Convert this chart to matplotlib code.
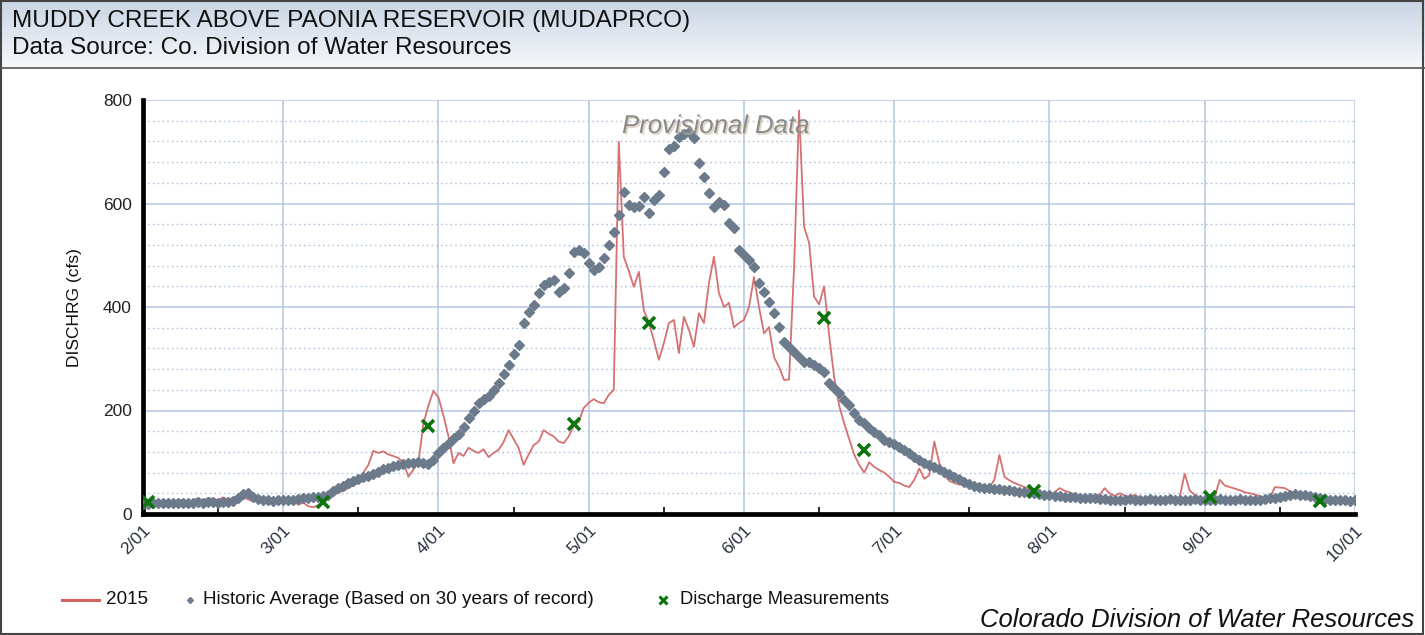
import matplotlib
matplotlib.use("Agg")
import matplotlib.pyplot as plt
import matplotlib.patheffects as pe
from matplotlib.lines import Line2D
from matplotlib.patches import Rectangle
from matplotlib.colors import LinearSegmentedColormap
import numpy as np
import pandas as pd

plt.rcParams['font.family'] = ['Liberation Sans', 'DejaVu Sans']

# ---------------- data ----------------
dates = pd.date_range("2015-02-01", "2015-10-01", freq="D")

flow_2015 = [
    # Feb
    22, 20, 24, 19, 23, 26, 21, 25, 28, 22, 27, 30, 26, 31, 29, 27, 32, 28, 30, 26, 33, 28, 25, 30, 27, 24, 28, 26,
    # Mar
    24, 20, 26, 18, 22, 15, 13, 17, 23, 30, 36, 42, 45, 50, 55, 62, 80, 95, 122, 118, 121, 115, 112, 108, 100, 72, 86, 100, 175, 210, 238,
    # Apr
    225, 190, 150, 98, 118, 112, 128, 122, 118, 125, 110, 118, 124, 139, 162, 145, 128, 95, 115, 133, 140, 162, 155, 150, 140, 137, 150, 170, 178, 205,
    # May
    215, 222, 216, 214, 230, 240, 719, 497, 470, 439, 468, 394, 370, 336, 298, 330, 369, 375, 311, 381, 356, 323, 388, 369, 446, 497, 427, 400, 408, 361, 369,
    # Jun
    375, 400, 458, 400, 349, 361, 303, 284, 259, 260, 477, 780, 555, 524, 420, 405, 440, 345, 265, 210, 175, 145, 115, 95, 80, 100, 91, 85, 80, 72,
    # Jul
    62, 60, 55, 52, 66, 88, 68, 75, 140, 98, 75, 64, 60, 57, 55, 54, 54, 53, 52, 52, 66, 114, 72, 65, 60, 56, 52, 49, 46, 42, 38,
    # Aug
    33, 42, 50, 45, 42, 38, 33, 32, 33, 35, 37, 50, 40, 35, 40, 36, 33, 37, 32, 30, 29, 30, 29, 30, 31, 30, 33, 78, 45, 37, 32,
    # Sep
    30, 31, 34, 66, 55, 52, 49, 46, 42, 40, 38, 34, 32, 31, 52, 51, 50, 44, 37, 33, 31, 30, 29, 28, 27, 26, 27, 25, 26, 25,
    # Oct 1
    25,
]

historic_avg = [
    # Feb
    20, 20, 21, 21, 21, 22, 21, 22, 22, 21, 22, 23, 22, 23, 23, 22, 23, 24, 25, 30, 38, 40, 33, 29, 27, 27, 26, 27,
    # Mar
    27, 28, 28, 29, 30, 31, 32, 33, 34, 37, 44, 50, 55, 60, 64, 68, 71, 74, 77, 82, 86, 89, 92, 95, 97, 98, 99, 100, 98, 97, 104,
    # Apr
    118, 128, 137, 146, 155, 168, 185, 200, 214, 222, 228, 240, 253, 270, 288, 310, 327, 369, 390, 404, 427, 442, 448, 452, 429, 437, 466, 506, 510, 504,
    # May
    485, 471, 478, 495, 520, 545, 578, 622, 597, 593, 595, 613, 581, 607, 616, 661, 705, 712, 729, 735, 738, 726, 678, 651, 620, 593, 603, 597, 562, 553, 510,
    # Jun
    500, 491, 477, 446, 429, 410, 388, 361, 332, 323, 313, 303, 294, 294, 288, 282, 274, 253, 243, 234, 220, 211, 195, 182, 176, 166, 158, 153, 143, 140,
    # Jul
    135, 130, 124, 118, 111, 104, 98, 94, 90, 86, 82, 77, 72, 67, 62, 58, 55, 52, 51, 50, 49, 48, 47, 46, 44, 43, 42, 41, 40, 38, 37,
    # Aug
    36, 35, 34, 33, 33, 32, 31, 31, 30, 30, 29, 29, 28, 28, 27, 28, 29, 28, 27, 28, 29, 28, 27, 28, 29, 28, 28, 27, 28, 29, 28,
    # Sep
    27, 28, 28, 29, 28, 27, 28, 29, 28, 28, 27, 28, 29, 30, 31, 33, 35, 37, 38, 37, 36, 35, 33, 31, 29, 28, 27, 28, 27, 26,
    # Oct 1
    27,
]

meas_dates = pd.to_datetime(["2015-02-02", "2015-03-09", "2015-03-30", "2015-04-28", "2015-05-13",
                             "2015-06-17", "2015-06-25", "2015-07-29", "2015-09-02", "2015-09-24"])
meas_values = [23, 23, 170, 174, 369, 379, 124, 44, 33, 26]

month_ticks = pd.date_range("2015-02-01", "2015-10-01", freq="MS")
tick_labels = ["2/01", "3/01", "4/01", "5/01", "6/01", "7/01", "8/01", "9/01", "10/01"]
mid_ticks = pd.to_datetime(["2015-02-16", "2015-03-16", "2015-04-16", "2015-05-16", "2015-06-16",
                            "2015-07-16", "2015-08-16", "2015-09-16"])
y_major = [0, 200, 400, 600, 800]
y_minor = [v for v in range(40, 800, 40) if v % 200 != 0]

title = "MUDDY CREEK ABOVE PAONIA RESERVOIR (MUDAPRCO)"
subtitle = "Data Source: Co. Division of Water Resources"
legend_labels = ["2015", "Historic Average (Based on 30 years of record)", "Discharge Measurements"]

# ---------------- figure ----------------
W, H = 1425, 635
fig = plt.figure(figsize=(W / 100, H / 100), dpi=100)
fig.patch.set_facecolor("white")
renderer = fig.canvas.get_renderer()


def fx(px):
    return px / W


def fy(py):
    return 1 - py / H


def fit_text(s, x0, x1, yc, ha="left", **kw):
    xa = x0 if ha == "left" else (x0 + x1) / 2
    t = fig.text(fx(xa), fy(yc), s, va="center", ha=ha, fontsize=10, **kw)
    ext = t.get_window_extent(renderer)
    t.set_fontsize(10 * (x1 - x0) / ext.width)
    return t


# header gradient
hax = fig.add_axes([0, fy(68), 1, 68 / H])
grad = np.linspace(0, 1, 100).reshape(-1, 1)
cmap = LinearSegmentedColormap.from_list("hdr", ["#c9d5e4", "#f6f8fb"])
hax.imshow(grad, aspect="auto", cmap=cmap, extent=[0, 1, 0, 1], origin="upper")
hax.set_axis_off()
fig.add_artist(Line2D([0, 1], [fy(68), fy(68)], transform=fig.transFigure, color="#555555", lw=1.2))

fit_text(title, 12, 690, 21, color="#111111")
fit_text(subtitle, 12, 513, 48, color="#111111")

# main axes
ax = fig.add_axes([fx(143), fy(514), (1355 - 143) / W, (514 - 100) / H])
ax.plot(dates, flow_2015, color="#d26262", lw=1.3, alpha=0.9, zorder=3)
ax.plot(dates, historic_avg, ls="none", marker="D", ms=4.8, color="#6c7b8b", mec="#6c7b8b", zorder=4)
ax.plot(meas_dates, meas_values, ls="none", marker="x", ms=8, mew=2.6, color="#0c740c", zorder=5)

ax.set_xlim(dates[0], dates[-1])
ax.set_ylim(0, 800)
ax.set_yticks(y_major)
ax.set_yticks(y_minor, minor=True)
ax.set_xticks(month_ticks)
ax.set_xticklabels(tick_labels)
ax.set_xticks(mid_ticks, minor=True)

grid_c = "#b3c6e0"
ax.grid(which="major", axis="both", color=grid_c, lw=1.1, zorder=0)
ax.yaxis.grid(True, which="minor", color=grid_c, lw=1.0, ls=(0, (1.2, 2.2)), zorder=0)
ax.xaxis.grid(False, which="minor")
ax.set_axisbelow(True)

for s in ["top", "right"]:
    ax.spines[s].set_visible(False)
for s in ["left", "bottom"]:
    ax.spines[s].set_linewidth(3.4)
    ax.spines[s].set_color("black")

ax.tick_params(axis="y", which="major", length=0, pad=8, labelsize=12.5, labelcolor="#222222")
ax.tick_params(axis="y", which="minor", length=0)
ax.tick_params(axis="x", which="major", length=0, pad=6, labelsize=12.5, labelcolor="#2a3040")
ax.tick_params(axis="x", which="minor", direction="in", length=5, width=1.2, color="black")
for lab in ax.get_xticklabels():
    lab.set_rotation(45)
    lab.set_ha("right")
    lab.set_va("top")
    lab.set_rotation_mode("anchor")

# y label
fig.text(fx(74), fy(308), "DISCHRG (cfs)", rotation=90, va="center", ha="center", fontsize=12.5, color="#111111")

# provisional data
pt = fit_text("Provisional Data", 622, 810, 126, ha="center", style="italic", color="#8a8a8a")
pt.set_path_effects([pe.withSimplePatchShadow(offset=(1.2, -1.2), shadow_rgbFace="#c8b89a", alpha=0.6)])

# credit
fit_text("Colorado Division of Water Resources", 980, 1415, 620, style="italic", color="#111111")

# legend
fig.add_artist(Line2D([fx(62), fx(99)], [fy(600), fy(600)], transform=fig.transFigure, color="#d26262", lw=2.2))
fit_text(legend_labels[0], 106, 148, 600, color="#111111")
fig.add_artist(Line2D([fx(190)], [fy(600)], transform=fig.transFigure, ls="none", marker="D", ms=3,
                      color="#6c7b8b"))
fit_text(legend_labels[1], 203, 598, 600, color="#111111")
fig.add_artist(Line2D([fx(663)], [fy(600)], transform=fig.transFigure, ls="none", marker="x", ms=6, mew=2.2,
                      color="#0c740c"))
fit_text(legend_labels[2], 680, 890, 600, color="#111111")

# border
fig.add_artist(Rectangle((0.0005, 0.001), 0.998, 0.998, transform=fig.transFigure, fill=False,
                         ec="#444444", lw=1.5))

fig.savefig("out.png", dpi=100)
